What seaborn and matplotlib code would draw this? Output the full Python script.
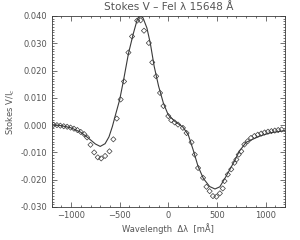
import numpy as np
import pandas as pd
import seaborn as sns
import matplotlib
matplotlib.use("Agg")
import matplotlib.pyplot as plt
from matplotlib.ticker import MultipleLocator, FormatStrFormatter

# observed Stokes V profile (diamonds)
obs_dl = [-1180, -1145, -1110, -1075, -1040, -1005, -970, -935, -900, -865,
          -835, -800, -762, -725, -690, -650, -605, -565, -530, -490,
          -455, -410, -373, -320, -285, -250, -200, -165, -125, -85,
          -50, 0, 30, 65, 100, 150, 188, 239, 272, 306,
          357, 392, 425, 459, 495, 530, 560, 578, 612, 647,
          680, 700, 724, 750, 782, 816, 850, 885, 920, 955,
          990, 1025, 1060, 1095, 1130, 1165]
obs_v = [0.0001, 0.0000, -0.0002, -0.0004, -0.0006, -0.0009, -0.0013, -0.0018, -0.0025, -0.0033,
         -0.0045, -0.0072, -0.0100, -0.0118, -0.0122, -0.0113, -0.0096, -0.0052, 0.0024, 0.0094,
         0.0160, 0.0266, 0.0325, 0.0383, 0.0384, 0.0346, 0.0301, 0.0230, 0.0179, 0.0118,
         0.0070, 0.0033, 0.0018, 0.0010, 0.0002, -0.0010, -0.0029, -0.0063, -0.0108, -0.0157,
         -0.0193, -0.0226, -0.0242, -0.0260, -0.0262, -0.0250, -0.0232, -0.0205, -0.0181, -0.0162,
         -0.0138, -0.0126, -0.0108, -0.0096, -0.0071, -0.0059, -0.0047, -0.0040, -0.0035, -0.0031,
         -0.0027, -0.0024, -0.0022, -0.0020, -0.0018, -0.0016]

# model fit (solid line)
fit_dl = [-1200, -1100, -1000, -900, -820, -750, -700, -650, -610, -575,
          -545, -500, -460, -410, -360, -320, -295, -260, -220, -185,
          -145, -100, -50, 0, 70, 150, 205, 255, 305, 360,
          425, 480, 530, 595, 680, 730, 800, 935, 1050, 1200]
fit_v = [0.0002, -0.0002, -0.0010, -0.0026, -0.0048, -0.0069, -0.0078, -0.0068, -0.0043, -0.0005,
         0.0035, 0.0093, 0.0165, 0.0262, 0.0335, 0.0386, 0.0402, 0.0393, 0.0356, 0.0300,
         0.0215, 0.0143, 0.0080, 0.0037, 0.0013, -0.0007, -0.0035, -0.0090, -0.0150, -0.0195,
         -0.0225, -0.0234, -0.0226, -0.0187, -0.0132, -0.0096, -0.0063, -0.0041, -0.0028, -0.0020]

obs = pd.DataFrame({"dl": obs_dl, "v": obs_v})
fit = pd.DataFrame({"dl": fit_dl, "v": fit_v})

sns.set_style("ticks")
plt.rcParams["font.family"] = ["DejaVu Sans"]
ink = "#3a3a3a"
txt = "#555555"

fig = plt.figure(figsize=(3.0, 2.4), dpi=100)
ax = fig.add_axes([0.172, 0.1375, 0.778, 0.796])

sns.lineplot(x="dl", y="v", data=fit, ax=ax, color=ink, linewidth=0.8, sort=False)
sns.scatterplot(x="dl", y="v", data=obs, ax=ax, marker="D", s=7,
                facecolor="none", edgecolor=ink, linewidth=0.5)

ax.set_xlim(-1200, 1200)
ax.set_ylim(-0.030, 0.040)
ax.xaxis.set_major_locator(MultipleLocator(500))
ax.xaxis.set_minor_locator(MultipleLocator(100))
ax.yaxis.set_major_locator(MultipleLocator(0.010))
ax.yaxis.set_minor_locator(MultipleLocator(0.001))
ax.yaxis.set_major_formatter(FormatStrFormatter("%.3f"))

ax.tick_params(which="both", direction="in", top=True, right=True,
               color=ink, labelcolor=txt, labelsize=6, width=0.5)
ax.tick_params(which="major", length=3.5, pad=3)
ax.tick_params(which="minor", length=1.5)
for s in ax.spines.values():
    s.set_linewidth(0.6)
    s.set_color(ink)

ax.set_title("Stokes V \u2013 FeI \u03bb 15648 \u00c5", fontsize=7.6, color=txt, pad=4)
ax.set_xlabel("Wavelength  \u0394\u03bb  [m\u00c5]", fontsize=6, color=txt, labelpad=2)
ax.set_ylabel("Stokes V/I$_c$", fontsize=6, color=txt, labelpad=3)

fig.savefig("out.png", dpi=100)
